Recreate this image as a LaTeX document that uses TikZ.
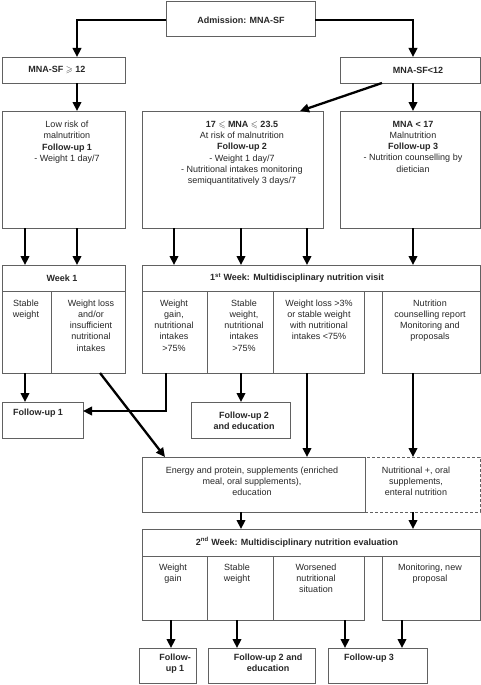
\documentclass[tikz,border=0pt]{standalone}
\usepackage{amssymb}
\usepackage{fontspec}
\setmainfont{Liberation Sans}
\usetikzlibrary{arrows.meta}
\begin{document}
\begin{tikzpicture}[x=1pt,y=-1pt,
 box/.style={draw=black!62, line width=0.8pt, inner sep=0pt, outer sep=0pt, anchor=north west},
 dbox/.style={box, dash pattern=on 3pt off 2pt},
 txt/.style={inner sep=0pt, align=center, font=\fontsize{9}{11.2}\selectfont, text=black!85},
 btxt/.style={txt, font=\fontsize{9}{11.2}\selectfont\bfseries},
 arr/.style={line width=2.3pt, -{Triangle[length=9pt,width=8.5pt]}},
]
\useasboundingbox (0,0) rectangle (481,685);
% boxes
\node[box, minimum width=149pt, minimum height=35pt] (adm) at (166,1) {};
\node[box, minimum width=123pt, minimum height=26pt] (m12) at (2,57) {};
\node[box, minimum width=140pt, minimum height=26pt] (mL) at (340,57) {};
\node[box, minimum width=123pt, minimum height=117pt] (b1) at (2,111) {};
\node[box, minimum width=181pt, minimum height=117pt] (b2) at (142,111) {};
\node[box, minimum width=140pt, minimum height=117pt] (b3) at (340,111) {};
\node[box, minimum width=123pt, minimum height=26pt] (w1h) at (2,265) {};
\node[box, minimum width=49pt, minimum height=82pt] (w1a) at (2,291) {};
\node[box, minimum width=74pt, minimum height=82pt] (w1b) at (51,291) {};
\node[box, minimum width=338pt, minimum height=26pt] (vh) at (142,265) {};
\node[box, minimum width=65pt, minimum height=82pt] (v1) at (142,291) {};
\node[box, minimum width=66pt, minimum height=82pt] (v2) at (207,291) {};
\node[box, minimum width=91pt, minimum height=82pt] (v3) at (273,291) {};
\node[box, minimum width=98pt, minimum height=82pt] (v4) at (382,291) {};
\node[box, minimum width=81pt, minimum height=36pt] (fu1a) at (2,402) {};
\node[box, minimum width=99pt, minimum height=36pt] (fu2a) at (191,402) {};
\node[dbox, minimum width=115pt, minimum height=55pt] (nu) at (365,457) {};
\node[box, minimum width=223pt, minimum height=55pt] (en) at (142,457) {};
\node[box, minimum width=338pt, minimum height=27pt] (wh) at (142,529) {};
\node[box, minimum width=65pt, minimum height=64pt] (e1) at (142,556) {};
\node[box, minimum width=66pt, minimum height=64pt] (e2) at (207,556) {};
\node[box, minimum width=91pt, minimum height=64pt] (e3) at (273,556) {};
\node[box, minimum width=98pt, minimum height=64pt] (e4) at (382,556) {};
\node[box, minimum width=57pt, minimum height=35pt] (f1) at (139,648) {};
\node[box, minimum width=107pt, minimum height=35pt] (f2) at (208,648) {};
\node[box, minimum width=99pt, minimum height=35pt] (f3) at (328,648) {};
% texts
\node[btxt] (tadm) at (241,20) {Admission: MNA-SF};
\node[btxt] (tm12) at (57,70) {MNA-SF $\geqslant$ 12};
\node[btxt] (tmL) at (418,70) {MNA-SF<12};
\node[txt, anchor=north] (tb1) at (67,121) {Low risk of\\malnutrition\\\textbf{Follow-up 1}\\- Weight 1 day/7};
\node[txt, anchor=north] (tb2) at (242,121) {\textbf{17 $\leqslant$ MNA $\leqslant$ 23.5}\\At risk of malnutrition\\\textbf{Follow-up 2}\\- Weight 1 day/7\\- Nutritional intakes monitoring\\semiquantitatively 3 days/7};
\node[txt, anchor=north] (tb3) at (413,121) {\textbf{MNA < 17}\\Malnutrition\\\textbf{Follow-up 3}\\- Nutrition counselling by\\dietician};
\node[btxt] (tw1h) at (62,278) {Week 1};
\node[btxt] (tvh) at (297,278) {1\textsuperscript{st} Week: Multidisciplinary nutrition visit};
\node[txt, anchor=north] (tw1a) at (26,299.5) {Stable\\weight};
\node[txt, anchor=north] (tw1b) at (91,299.5) {Weight loss\\and/or\\insufficient\\nutritional\\intakes};
\node[txt, anchor=north] (tv1) at (174,299.5) {Weight\\gain,\\nutritional\\intakes\\>75\%};
\node[txt, anchor=north] (tv2) at (244,299.5) {Stable\\weight,\\nutritional\\intakes\\>75\%};
\node[txt, anchor=north] (tv3) at (319,299.5) {Weight loss >3\%\\or stable weight\\with nutritional\\intakes <75\%};
\node[txt, anchor=north] (tv4) at (430,299.5) {Nutrition\\counselling report\\Monitoring and\\proposals};
\node[btxt] (tfu1a) at (38,413) {Follow-up 1};
\node[btxt, anchor=north] (tfu2a) at (244,411.5) {Follow-up 2\\and education};
\node[txt, anchor=north] (ten) at (252,466.5) {Energy and protein, supplements (enriched\\meal, oral supplements),\\education};
\node[txt, anchor=north] (tnu) at (416,466.5) {Nutritional +, oral\\supplements,\\enteral nutrition};
\node[btxt] (twh) at (297,542) {2\textsuperscript{nd} Week: Multidisciplinary nutrition evaluation};
\node[txt, anchor=north] (te1) at (173,563.5) {Weight\\gain};
\node[txt, anchor=north] (te2) at (237,563.5) {Stable\\weight};
\node[txt, anchor=north] (te3) at (316,563.5) {Worsened\\nutritional\\situation};
\node[txt, anchor=north] (te4) at (430,563.5) {Monitoring, new\\proposal};
\node[btxt, anchor=north] (tf1) at (175,653.5) {Follow-\\up 1};
\node[btxt, anchor=north] (tf2) at (268,653.5) {Follow-up 2 and\\education};
\node[btxt, anchor=north] (tf3) at (369,653.5) {Follow-up 3};
% arrow x positions
\coordinate (xA) at (77,0);
\coordinate (xB) at (413,0);
\coordinate (xC) at (382,0);
\coordinate (xD) at (300,0);
\coordinate (xE) at (25,0);
\coordinate (xF) at (174,0);
\coordinate (xG) at (241,0);
\coordinate (xH) at (307,0);
\coordinate (xJ) at (166,0);
\coordinate (yK) at (0,411);
\coordinate (xL) at (100,0);
\coordinate (xM) at (165,0);
\coordinate (xN) at (171,0);
\coordinate (xO) at (237,0);
\coordinate (xP) at (345,0);
\coordinate (xQ) at (402,0);
% connectors
\draw[arr] ([yshift=-1.5pt]adm.west) -| (m12.north -| xA);
\draw[arr] ([yshift=-1.5pt]adm.east) -| (mL.north -| xB);
\draw[arr] (m12.south -| xA) -- (b1.north -| xA);
\draw[arr] (mL.south -| xB) -- (b3.north -| xB);
\draw[arr] (mL.south -| xC) -- (b2.north -| xD);
\draw[arr] (b1.south -| xE) -- (w1h.north -| xE);
\draw[arr] (b1.south -| xA) -- (w1h.north -| xA);
\draw[arr] (b2.south -| xF) -- (vh.north -| xF);
\draw[arr] (b2.south -| xG) -- (vh.north -| xG);
\draw[arr] (b2.south -| xH) -- (vh.north -| xH);
\draw[arr] (b3.south -| xB) -- (vh.north -| xB);
\draw[arr] (w1a.south -| xE) -- (fu1a.north -| xE);
\draw[arr] (v1.south -| xJ) |- (fu1a.east |- yK);
\draw[arr] (w1b.south -| xL) -- (en.north -| xM);
\draw[arr] (v2.south -| xG) -- (fu2a.north -| xG);
\draw[arr] (v3.south -| xH) -- (en.north -| xH);
\draw[arr] (v4.south -| xB) -- (nu.north -| xB);
\draw[arr] (en.south -| xG) -- (wh.north -| xG);
\draw[arr] (nu.south -| xB) -- (wh.north -| xB);
\draw[arr] (e1.south -| xN) -- (f1.north -| xN);
\draw[arr] (e2.south -| xO) -- (f2.north -| xO);
\draw[arr] (e3.south -| xP) -- (f3.north -| xP);
\draw[arr] (e4.south -| xQ) -- (f3.north -| xQ);
\end{tikzpicture}
\end{document}
